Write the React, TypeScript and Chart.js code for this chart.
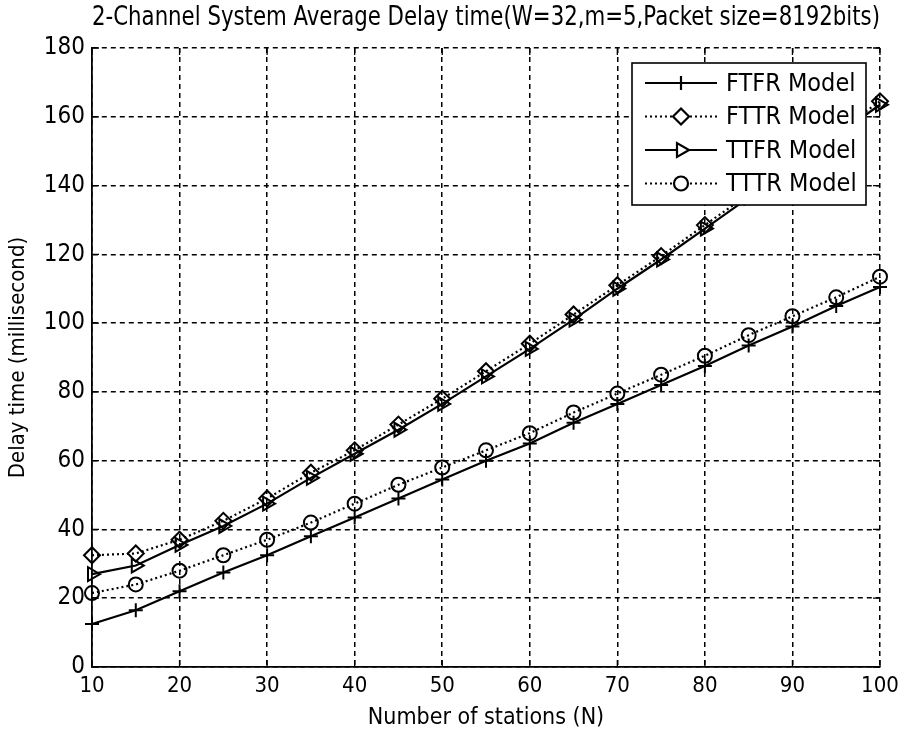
import React, { useEffect, useRef } from 'react';
import { Chart, registerables } from 'chart.js';
import { drawPoint } from 'chart.js/helpers';

Chart.register(...registerables);

const stations = [10, 15, 20, 25, 30, 35, 40, 45, 50, 55, 60, 65, 70, 75, 80, 85, 90, 95, 100];
const ftfr = [12.5, 16.5, 22, 27.5, 32.5, 38, 43.5, 49, 54.5, 60, 65, 71, 76.5, 82, 87.5, 93.5, 99, 105, 110.5];
const fttr = [32.5, 33, 37, 42.5, 49, 56.5, 63, 70.5, 78, 86, 94, 102.5, 111, 119.5, 128.5, 137.5, 146.5, 155.5, 164.5];
const ttfr = [27, 29.5, 35.5, 41, 47.5, 55, 62, 69, 76.5, 84.5, 92.5, 101, 110, 118.5, 127.5, 136.5, 145.5, 154.5, 163.5];
const tttr = [21.5, 24, 28, 32.5, 37, 42, 47.5, 53, 58, 63, 68, 74, 79.5, 85, 90.5, 96.5, 102, 107.5, 113.5];
const seriesNames = ['FTFR Model', 'FTTR Model', 'TTFR Model', 'TTTR Model'];
const titleText = '2-Channel System Average Delay time(W=32,m=5,Packet size=8192bits)';
const xTitle = 'Number of stations (N)';
const yTitle = 'Delay time (millisecond)';

const FONT = '"Liberation Sans Narrow", "Arial Narrow", "DejaVu Sans Condensed", sans-serif';

const boxLegend = {
  id: 'boxLegend',
  afterDatasetsDraw(chart: any) {
    const { ctx, chartArea } = chart;
    const w = 234;
    const h = 142;
    const x0 = chartArea.right - 14 - w;
    const y0 = chartArea.top + 15;
    ctx.save();
    ctx.fillStyle = '#fff';
    ctx.fillRect(x0, y0, w, h);
    ctx.strokeStyle = '#000';
    ctx.lineWidth = 1.6;
    ctx.setLineDash([]);
    ctx.strokeRect(x0, y0, w, h);
    chart.data.datasets.forEach((ds: any, i: number) => {
      const cy = y0 + 20 + i * 33.5;
      ctx.strokeStyle = '#000';
      ctx.setLineDash(ds.borderDash || []);
      ctx.lineWidth = ds.borderWidth;
      ctx.beginPath();
      ctx.moveTo(x0 + 13, cy);
      ctx.lineTo(x0 + 85, cy);
      ctx.stroke();
      ctx.setLineDash([]);
      ctx.fillStyle = '#fff';
      drawPoint(ctx, { pointStyle: ds.pointStyle, rotation: ds.pointRotation || 0, radius: ds.pointRadius, borderWidth: ds.pointBorderWidth }, x0 + 49, cy);
      ctx.fillStyle = '#000';
      ctx.font = '25px ' + FONT;
      ctx.textBaseline = 'middle';
      ctx.textAlign = 'left';
      ctx.fillText(ds.label, x0 + 94, cy + 1);
    });
    ctx.restore();
  },
};

const innerTicks = {
  id: 'innerTicks',
  afterDraw(chart: any) {
    const { ctx, chartArea, scales } = chart;
    const L = 7;
    ctx.save();
    ctx.strokeStyle = '#000';
    ctx.lineWidth = 1.3;
    ctx.setLineDash([]);
    ctx.beginPath();
    scales.x.ticks.forEach((t: any) => {
      const px = scales.x.getPixelForValue(t.value);
      ctx.moveTo(px, chartArea.bottom);
      ctx.lineTo(px, chartArea.bottom - L);
      ctx.moveTo(px, chartArea.top);
      ctx.lineTo(px, chartArea.top + L);
    });
    scales.y.ticks.forEach((t: any) => {
      const py = scales.y.getPixelForValue(t.value);
      ctx.moveTo(chartArea.left, py);
      ctx.lineTo(chartArea.left + L, py);
      ctx.moveTo(chartArea.right, py);
      ctx.lineTo(chartArea.right - L, py);
    });
    ctx.stroke();
    ctx.restore();
  },
};

export default function App() {
  const ref = useRef<HTMLCanvasElement>(null);
  useEffect(() => {
    document.body.style.margin = '0';
    const common = {
      borderColor: '#000',
      pointBorderColor: '#000',
      pointBackgroundColor: 'rgba(0,0,0,0)',
      borderWidth: 2.2,
      pointBorderWidth: 2,
      fill: false,
      tension: 0,
      clip: false as any,
    };
    const chart = new Chart(ref.current!, {
      type: 'line',
      data: {
        datasets: [
          { ...common, label: seriesNames[0], data: stations.map((x, i) => ({ x, y: ftfr[i] })), pointStyle: 'cross', pointRadius: 7 },
          { ...common, label: seriesNames[1], data: stations.map((x, i) => ({ x, y: fttr[i] })), pointStyle: 'rectRot', pointRadius: 8, borderDash: [2, 3] },
          { ...common, label: seriesNames[2], data: stations.map((x, i) => ({ x, y: ttfr[i] })), pointStyle: 'triangle', pointRotation: 90, pointRadius: 8 },
          { ...common, label: seriesNames[3], data: stations.map((x, i) => ({ x, y: tttr[i] })), pointStyle: 'circle', pointRadius: 7, borderDash: [2, 3] },
        ] as any,
      },
      options: {
        responsive: false,
        animation: false,
        devicePixelRatio: 1,
        layout: { padding: { left: 0, right: 19, top: 0, bottom: 0 } },
        plugins: {
          legend: { display: false },
          tooltip: { enabled: false },
          title: {
            display: true,
            text: titleText,
            color: '#000',
            align: 'end',
            fullSize: false,
            font: { family: FONT, size: 26, weight: 'normal', lineHeight: 1.2 },
            padding: { top: 3, bottom: 13.8 },
          },
        },
        scales: {
          x: {
            type: 'linear',
            min: 10,
            max: 100,
            afterFit: (s: any) => { s.height = 67; s.paddingLeft = 0; s.paddingRight = 0; },
            ticks: { stepSize: 10, color: '#000', padding: 6, font: { family: FONT, size: 22 }, maxRotation: 0 },
            grid: { color: '#000', lineWidth: 1.5, drawTicks: false },
            border: { display: true, color: '#000', width: 1.8, dash: [5, 4] },
            title: { display: true, text: xTitle, color: '#000', font: { family: FONT, size: 23, lineHeight: 1 }, padding: { top: 0, bottom: 4 } },
          },
          y: {
            min: 0,
            max: 180,
            afterFit: (s: any) => { s.width = 92; s.paddingTop = 0; s.paddingBottom = 0; },
            ticks: { stepSize: 20, color: '#000', padding: 7, font: { family: FONT, size: 24 } },
            grid: { color: '#000', lineWidth: 1.5, drawTicks: false },
            border: { display: true, color: '#000', width: 1.8, dash: [5, 4] },
            title: { display: true, text: yTitle, color: '#000', font: { family: FONT, size: 22, lineHeight: 1 }, padding: { top: 7, bottom: 0 } },
          },
        },
      },
      plugins: [boxLegend, innerTicks],
    });
    return () => chart.destroy();
  }, []);
  return (
    <div style={{ position: 'absolute', left: 0, top: 0, width: 899, height: 734, background: '#fff' }}>
      <canvas ref={ref} width={899} height={734} style={{ width: 899, height: 734, display: 'block' }} />
    </div>
  );
}
